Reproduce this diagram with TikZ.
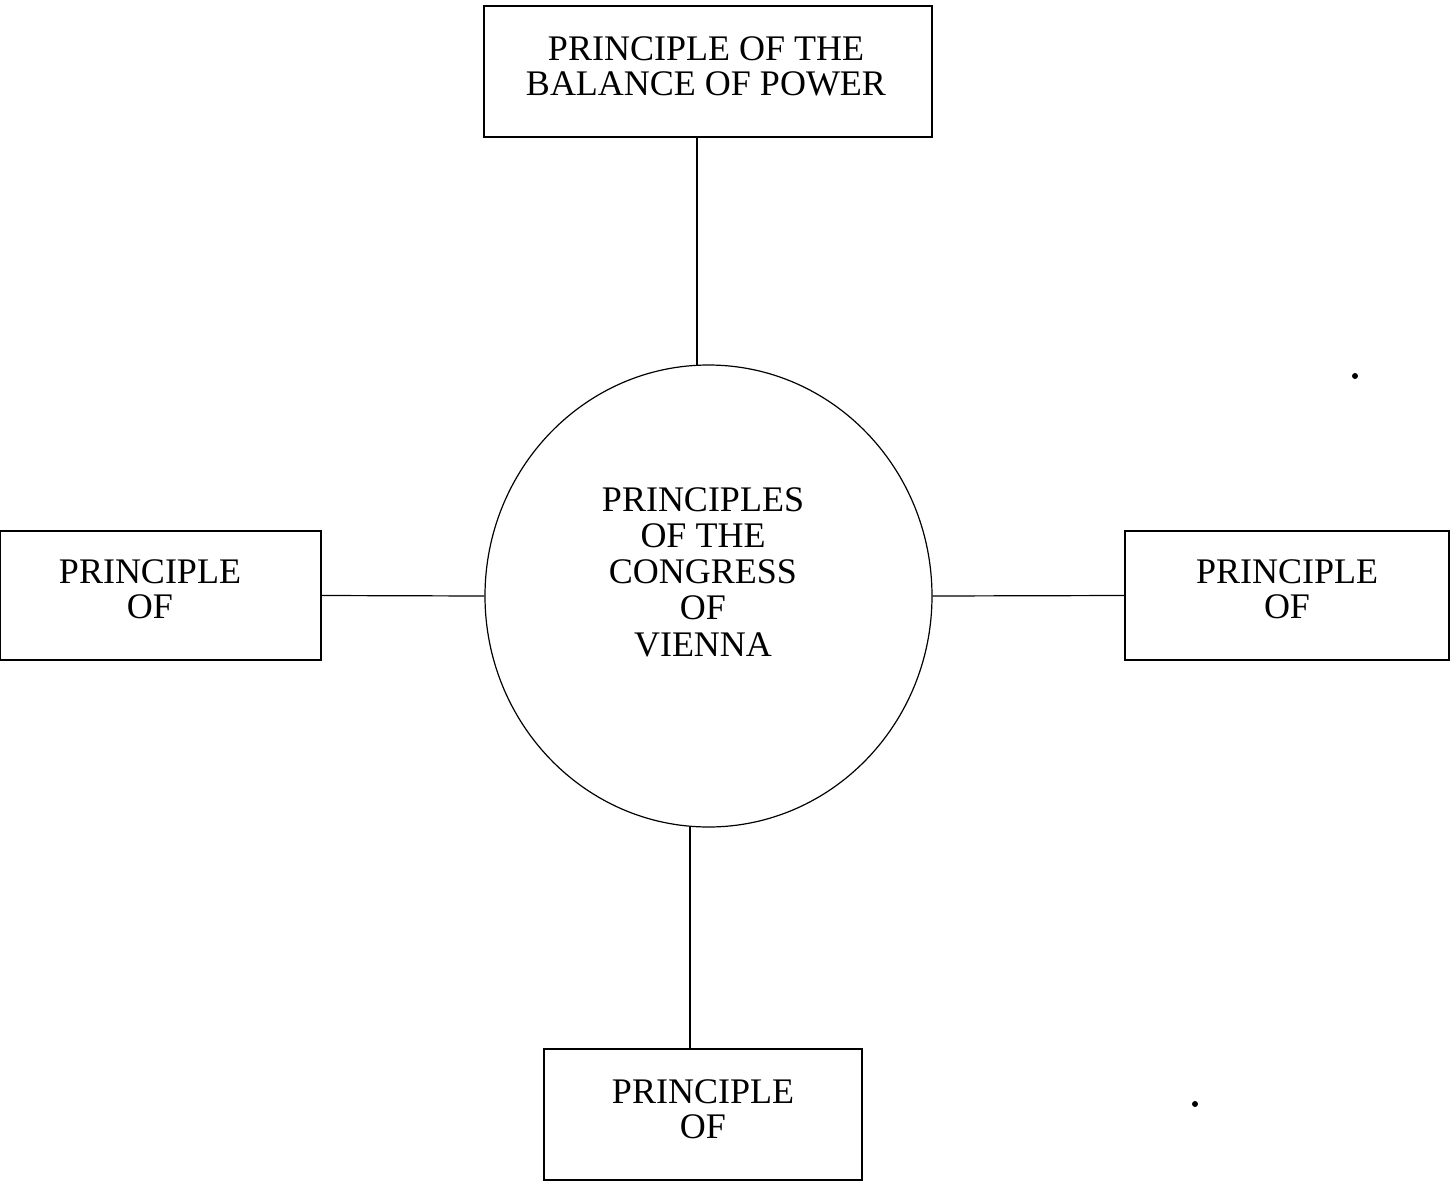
\documentclass[tikz,border=0pt]{standalone}
\usepackage{fontspec}
\setmainfont{Liberation Serif}
\usetikzlibrary{shapes.geometric}
\begin{document}
\begin{tikzpicture}[x=0.5pt,y=-0.5pt,
  lbl/.style={align=center,font=\fontsize{18}{17.5}\selectfont,inner sep=0pt},
  box/.style={draw,line width=0.7pt},
  conn/.style={draw,line width=0.6pt}]
\useasboundingbox[fill=white] (0,0) rectangle (1452,1184);
% boxes
\node[box,minimum width=224pt,minimum height=65.5pt] (top) at (708,71.5) {};
\node[box,minimum width=160.5pt,minimum height=64.5pt] (left) at (160.5,595.5) {};
\node[box,minimum width=162pt,minimum height=64.5pt] (right) at (1287,595.5) {};
\node[box,minimum width=159pt,minimum height=65.5pt] (bottom) at (703,1114.5) {};
\node[draw,line width=0.6pt,ellipse,minimum width=223.5pt,minimum height=231pt,inner sep=0pt] (circ) at (708.5,596) {};
% texts
\node[lbl] (ttop) at (706,66) {PRINCIPLE OF THE\\BALANCE OF POWER};
\node[lbl] (tleft) at (150,589) {PRINCIPLE\\OF};
\node[lbl] (tright) at (1287,589) {PRINCIPLE\\OF};
\node[lbl] (tbottom) at (703,1109) {PRINCIPLE\\OF};
\node[lbl,font=\fontsize{18}{18.1}\selectfont] (tcirc) at (703,572) {PRINCIPLES\\OF THE\\CONGRESS\\OF\\VIENNA};
% connectors
\coordinate (c1) at (697,137);
\coordinate (c2) at (697,365);
\draw[conn] (c1) -- (c2);
\draw[conn] (left.east) -- (circ.west);
\draw[conn] (circ.east) -- (right.west);
\coordinate (c3) at (690,827);
\coordinate (c4) at (690,1049);
\draw[conn] (c3) -- (c4);
% stray dots
\fill (1355,376) circle (1.5pt);
\fill (1195,1104) circle (1.5pt);
\end{tikzpicture}
\end{document}
